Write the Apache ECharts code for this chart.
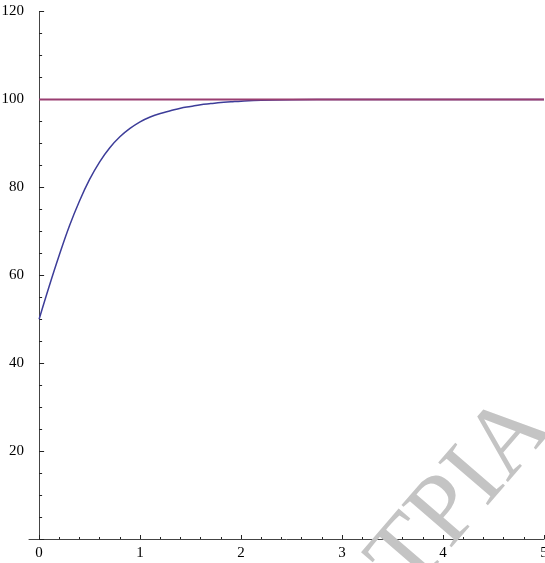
<!DOCTYPE html>
<html>
<head>
<meta charset="utf-8">
<script src="https://cdn.jsdelivr.net/npm/echarts@6/dist/echarts.min.js"></script>
<style>
html,body{margin:0;padding:0;background:#fff;}
#chart{width:545px;height:563px;}
</style>
</head>
<body>
<div id="chart"></div>
<script>
// Data
const curveX = [0, 0.1, 0.2, 0.3, 0.4, 0.5, 0.6, 0.7, 0.8, 0.9, 1.0, 1.1, 1.2, 1.3, 1.4, 1.5, 1.6, 1.7, 1.8, 1.9, 2.0, 2.2, 2.5, 3, 4, 5];
const curveY = [50, 57.5, 64.6, 71.2, 76.9, 81.8, 85.8, 89.0, 91.5, 93.4, 94.9, 96.0, 96.8, 97.4, 98.0, 98.4, 98.8, 99.05, 99.3, 99.45, 99.6, 99.8, 99.93, 100, 100, 100];
const limitX = [0, 5];
const limitY = [100, 100];
const xMajorTicks = [0, 1, 2, 3, 4, 5];
const xMinorTicks = [0.2, 0.4, 0.6, 0.8, 1.2, 1.4, 1.6, 1.8, 2.2, 2.4, 2.6, 2.8, 3.2, 3.4, 3.6, 3.8, 4.2, 4.4, 4.6, 4.8];
const watermark = 'TPIA';

const chart = echarts.init(document.getElementById('chart'), null, {renderer: 'canvas'});
const font = 'Liberation Serif';
const axisColor = '#444';

chart.setOption({
  animation: false,
  backgroundColor: '#fff',
  grid: {left: 29, right: 1, top: 11.5, bottom: 24, containLabel: false, outerBoundsMode: 'none'},
  xAxis: [
    {
      type: 'value', min: -0.1, max: 5,
      axisLine: {show: true, onZero: false, lineStyle: {color: axisColor, width: 1}},
      axisTick: {show: true, inside: true, length: 4, customValues: xMajorTicks, lineStyle: {color: '#222'}},
      axisLabel: {show: true, customValues: xMajorTicks, margin: 7, color: '#000', fontFamily: font, fontSize: 15},
      splitLine: {show: false}
    },
    {
      type: 'value', min: -0.1, max: 5, position: 'bottom',
      axisLine: {show: false, onZero: false},
      axisTick: {show: true, inside: true, length: 2, customValues: xMinorTicks, lineStyle: {color: '#222'}},
      axisLabel: {show: false},
      splitLine: {show: false}
    }
  ],
  yAxis: {
    type: 'value', min: 0, max: 120, interval: 20,
    axisLine: {show: true, onZero: true, onZeroAxisIndex: 0, lineStyle: {color: axisColor, width: 1}},
    axisTick: {show: true, inside: true, length: 5, lineStyle: {color: '#222'}},
    minorTick: {show: true, splitNumber: 4, length: 3, lineStyle: {color: '#222'}},
    axisLabel: {
      margin: 5, color: '#000', fontFamily: font, fontSize: 15,
      formatter: v => (v === 0 ? '' : String(v))
    },
    splitLine: {show: false}
  },
  series: [
    {
      type: 'line', xAxisIndex: 0,
      data: curveX.map((x, i) => [x, curveY[i]]),
      smooth: 0.4, showSymbol: false,
      lineStyle: {color: '#3d3d99', width: 1.5}
    },
    {
      type: 'line', xAxisIndex: 0,
      data: limitX.map((x, i) => [x, limitY[i]]),
      showSymbol: false,
      lineStyle: {color: '#993d71', width: 2}
    }
  ],
  graphic: [{
    type: 'text',
    z: 100,
    silent: true,
    rotation: 0.86,
    x: 462, y: 495,
    style: {
      text: watermark,
      fill: '#c4c4c4',
      font: '100px "Liberation Serif"',
      align: 'center',
      verticalAlign: 'middle'
    }
  }]
});
</script>
</body>
</html>
